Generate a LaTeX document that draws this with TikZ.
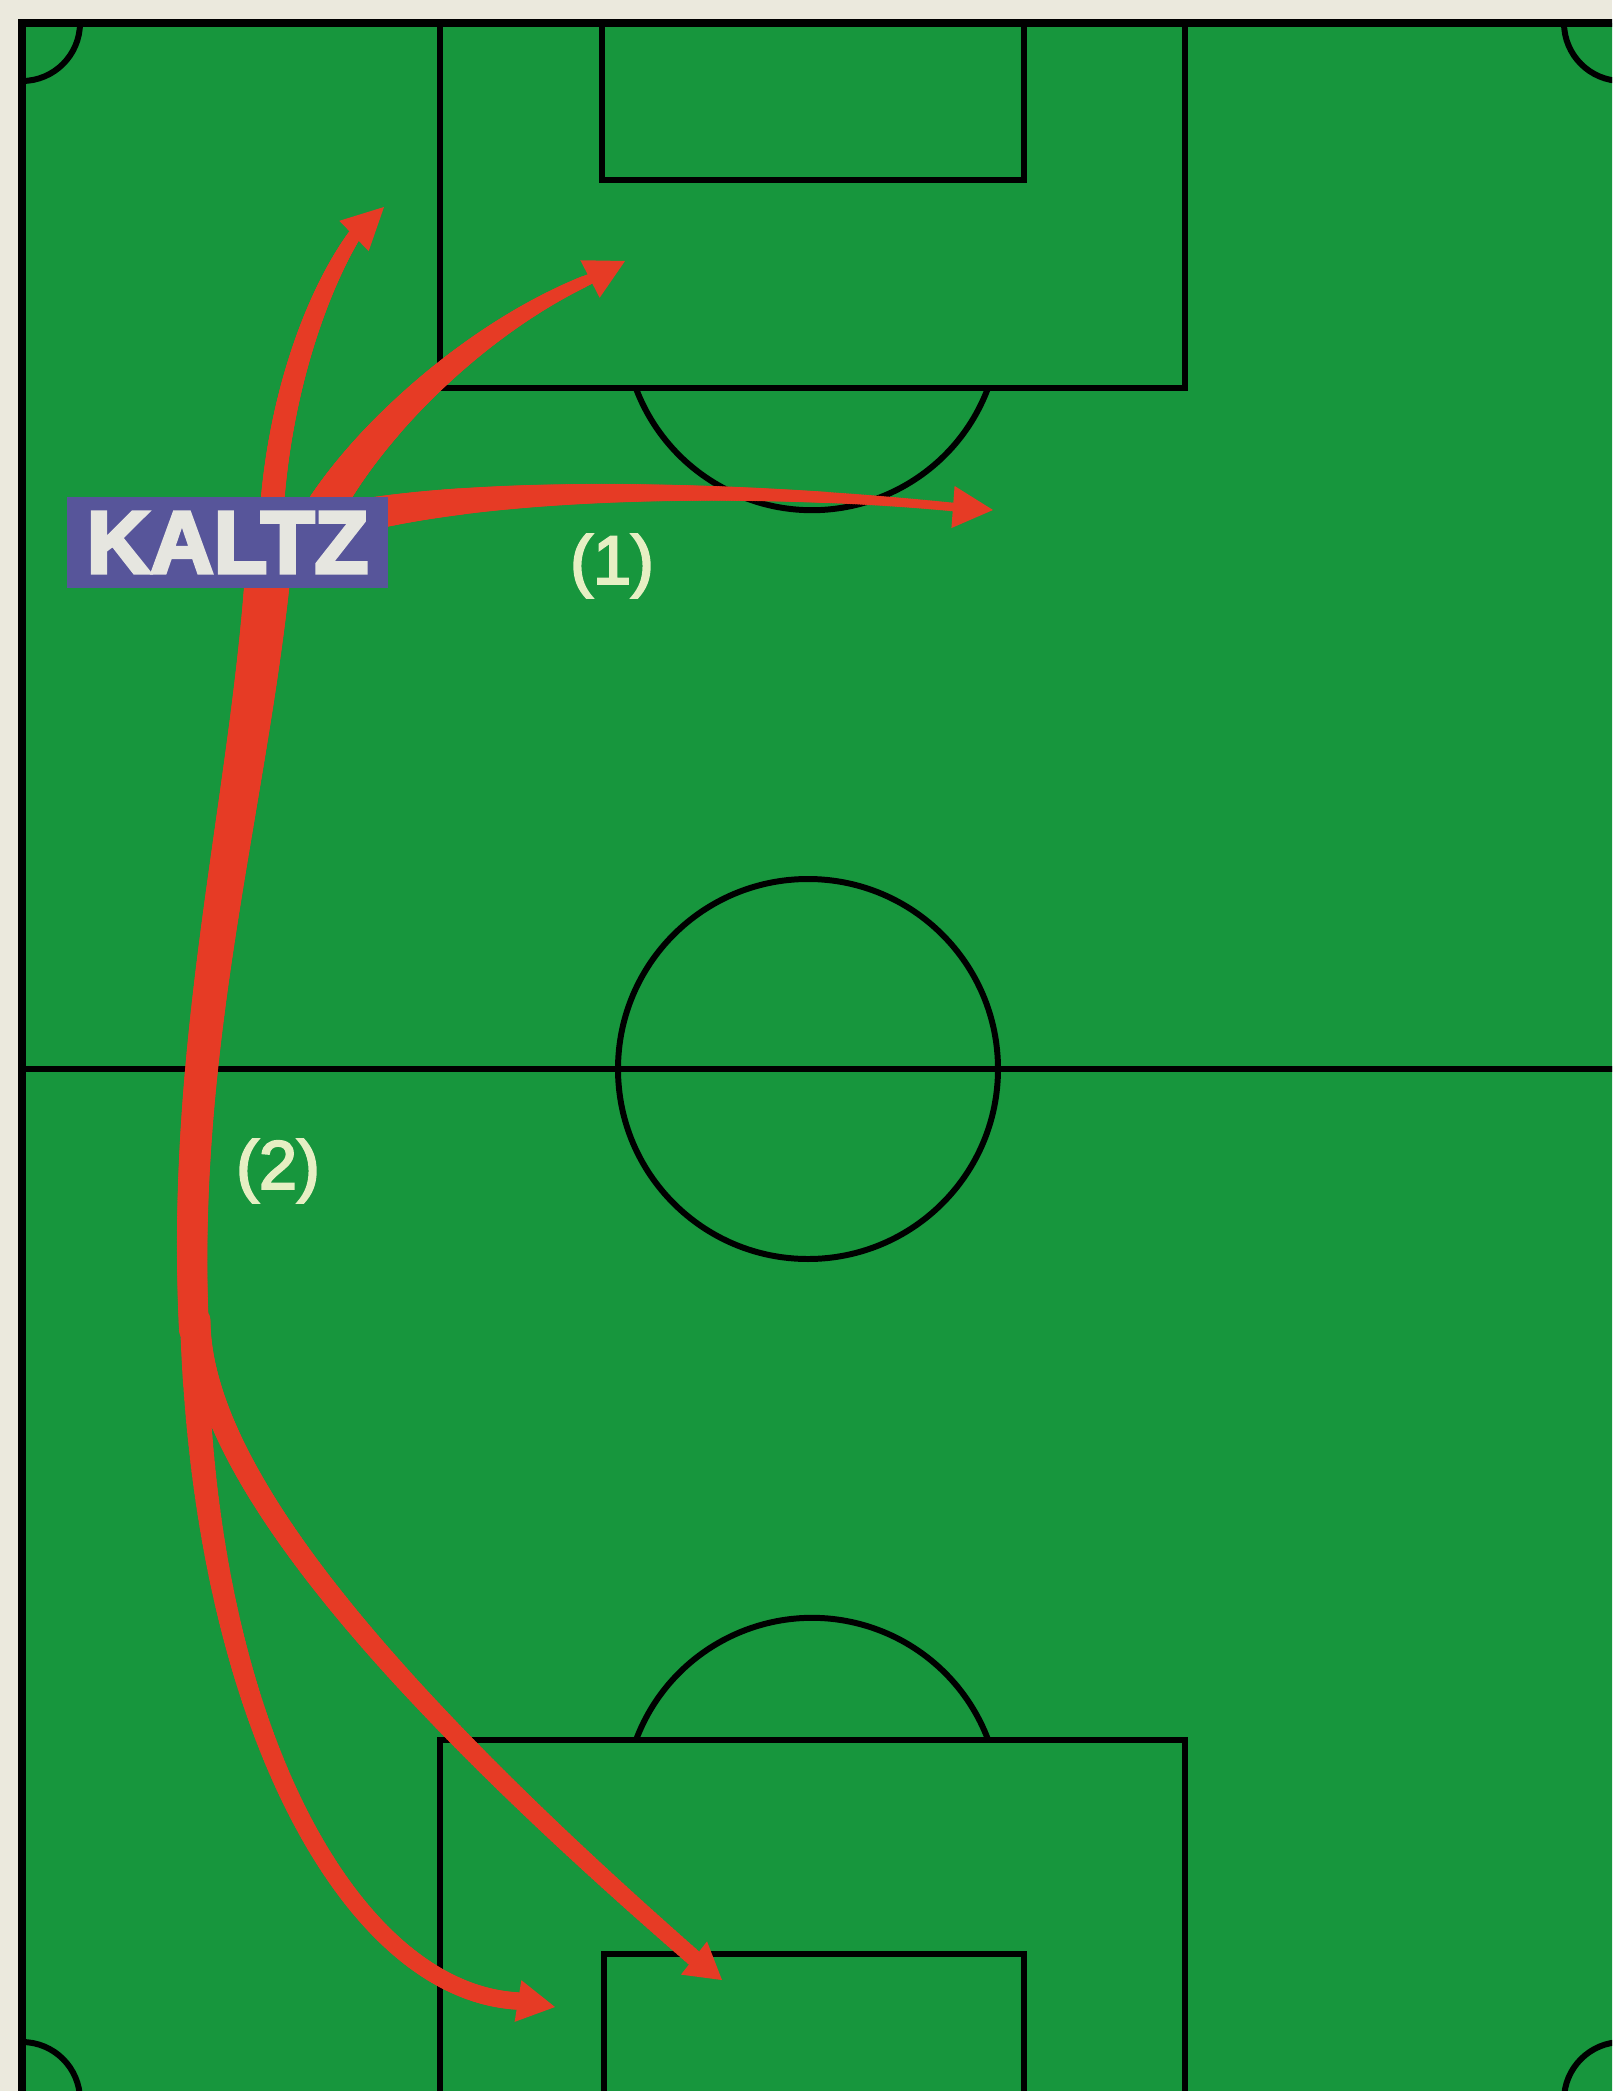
\documentclass[tikz,border=0pt]{standalone}
\usepackage{fontspec}
\setmainfont{Liberation Sans}
\newfontfamily\kaltzfont[BoldFeatures={FakeBold=4}]{Liberation Sans}
\newfontfamily\passfont[FakeBold=3]{Liberation Sans}
\usetikzlibrary{calc}

\definecolor{paper}{HTML}{EBE9DD}
\definecolor{pitch}{HTML}{17963D}
\definecolor{arrowred}{HTML}{E63B25}
\definecolor{kaltzblue}{HTML}{57559A}
\definecolor{kaltztext}{HTML}{E6E6E0}
\definecolor{labeltext}{HTML}{E6EFC3}

\tikzset{
  fieldline/.style={draw=black, line width=1.9pt},
  tiphead/.style={fill=arrowred},
  passlabel/.style={text=labeltext, font={\passfont\fontsize{19.5}{22}\selectfont}, inner sep=0pt},
  namebox/.style={fill=kaltzblue, minimum width=3.21cm, minimum height=0.91cm, inner sep=0pt,
    text=kaltztext, font={\kaltzfont\bfseries\fontsize{25}{30}\selectfont}},
}

% tapered shaft along one cubic curve; #5 = radius in pt as a formula in \t
\newcommand\tapershaft[5]{%
  \foreach \t in {0,0.004,...,1}{%
    \path #1 .. controls #2 and #3 .. #4 coordinate[pos=\t] (shaftpt);
    \pgfmathsetmacro\shaftr{#5}%
    \fill[arrowred] (shaftpt) circle[radius=\shaftr pt];
  }}

\begin{document}
\begin{tikzpicture}[x=0.01cm,y=-0.01cm]
\useasboundingbox (0,0) rectangle (1612,2091);
\clip (0,0) rectangle (1612,2091);
\fill[paper] (0,0) rectangle (1612,2091);
\fill[pitch] (22,23) rectangle (1622,2100);

% touch lines
\draw[fieldline, line width=2.4pt] (22,2100) -- (22,23) -- (1622,23);
\draw[fieldline] (1622,23) -- (1622,2100) -- (22,2100);
% halfway line and centre circle
\draw[fieldline, line width=1.5pt] (22,1069) -- (1622,1069);
\draw[fieldline, line width=1.7pt] (808,1069) circle[radius=190];
% top end
\draw[fieldline] (440,23) -- (440,388) -- (1185,388) -- (1185,23);
\draw[fieldline] (602,23) -- (602,180) -- (1024,180) -- (1024,23);
\draw[fieldline, line width=1.7pt] (988,388) arc[start angle=20.5, end angle=159.5, radius=188];
% bottom end
\draw[fieldline] (440,2100) -- (440,1740) -- (1185,1740) -- (1185,2100);
\draw[fieldline] (604,2100) -- (604,1954) -- (1024,1954) -- (1024,2100);
\draw[fieldline, line width=1.7pt] (636,1740) arc[start angle=200.5, end angle=339.5, radius=188];
% corner arcs
\draw[fieldline, line width=1.7pt] (80,23) arc[start angle=0, end angle=90, radius=58];
\draw[fieldline, line width=1.7pt] (1622,81) arc[start angle=90, end angle=180, radius=58];
\draw[fieldline, line width=1.7pt] (22,2042) arc[start angle=270, end angle=360, radius=58];
\draw[fieldline, line width=1.7pt] (1564,2100) arc[start angle=180, end angle=270, radius=58];

% arrow tip coordinates
\coordinate (baseA) at (354,236);  \coordinate (tipA) at (384,207);
\coordinate (baseB) at (590,279);  \coordinate (tipB) at (625,261);
\coordinate (baseC) at (953,507);  \coordinate (tipC) at (993,510);
\coordinate (baseL) at (518,2001); \coordinate (tipL) at (555,2007);
\coordinate (baseR) at (694,1958); \coordinate (tipR) at (722,1980);

% arrow shafts
\tapershaft{(270,560)}{(270,420)}{(312,300)}{(baseA)}{1.85+1.565*(1-\t*\t)}
\tapershaft{(269,560)}{(250,800)}{(180,1040)}{(194,1330)}{4.27+2.28*max(0,1-\t)^1.5}
\tapershaft{(194,1320)}{(200,1720)}{(350,1992)}{(baseL)}{2.5+1.48*max(0,1-\t)^3}
\tapershaft{(198,1320)}{(200,1480)}{(410,1710)}{(baseR)}{3.56-1.14*\t}
\tapershaft{(306,545)}{(340,460)}{(460,335)}{(baseB)}{5.83-4.27*\t}
\tapershaft{(350,518)}{(500,485)}{(760,488)}{(baseC)}{1.28+3.56*max(0,1-\t)^1.5}

% arrow heads
\foreach \h in {A,B,C,L,R}{
  \fill[tiphead] (tip\h) -- ($(base\h)!6pt!90:(tip\h)$) -- ($(base\h)!6pt!-90:(tip\h)$) -- cycle;
}

% player name and labels
\node[namebox] (kaltz) at (227.5,542.5) {KALTZ};
\node[passlabel] (lab1) at (612,566) {(1)};
\node[passlabel] (lab2) at (278,1171) {(2)};
\end{tikzpicture}
\end{document}
